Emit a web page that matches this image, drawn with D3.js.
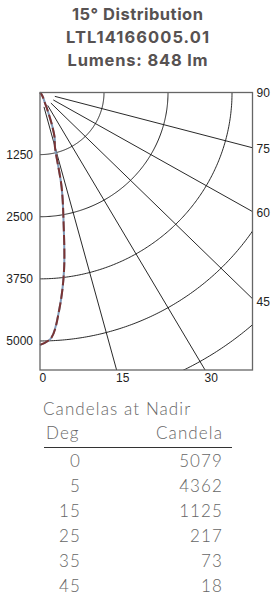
<!DOCTYPE html>
<html><head><meta charset="utf-8">
<script src="https://cdn.jsdelivr.net/npm/d3@7"></script>
<style>body{margin:0;background:#fff}svg{display:block}</style>
</head><body><svg id="c" width="273" height="600"></svg>
<script>
// ---- data ----
const titleLines = ["15° Distribution", "LTL14166005.01", "Lumens: 848 lm"];
const radialTicks = [1250, 2500, 3750, 5000];
const arcRadii = [1250, 2500, 3750, 5000, 6250];
const bottomAngleLabels = [0, 15, 30];
const rightAngleLabels = [90, 75, 60, 45];
const spokeAngles = [15, 30, 45, 60, 75];
// plotted candela curve
const curveAngles = [0, 2.5, 5, 7.5, 10, 12.5, 15, 17.5, 20, 22.5, 25, 30, 35, 45, 90];
const curveCandela = [5079, 4950, 4362, 3600, 2650, 1950, 1125, 950, 650, 380, 217, 130, 73, 18, 0];
// table
const tableDeg = [0, 5, 15, 25, 35, 45];
const tableCandela = [5079, 4362, 1125, 217, 73, 18];

const svg = d3.select("#c");
const rad = d => d * Math.PI / 180;

// title
const titleWidths = [131, 143, 140];
svg.append("g").selectAll("text").data(titleLines).join("text")
  .attr("x", 137.5).attr("y", (d, i) => 20 + i * 23)
  .attr("text-anchor", "middle")
  .attr("font-family", "Inter, Lato, sans-serif").attr("font-weight", 700)
  .attr("font-size", 16.5).attr("fill", "#575252")
  .attr("textLength", (d, i) => titleWidths[i]).attr("lengthAdjust", "spacing")
  .text(d => d);

// scales
const x = d3.scaleLinear().domain([0, 4150]).range([40, 252.5]);
const y = d3.scaleLinear().domain([0, 5584]).range([92.5, 370]);
const [x0, x1] = x.range(), [y0, y1] = y.range();
const maxX = x.domain()[1], maxY = y.domain()[1];

svg.append("clipPath").attr("id", "box").append("rect")
  .attr("x", x0).attr("y", y0).attr("width", x1 - x0).attr("height", y1 - y0);

const grid = svg.append("g").attr("clip-path", "url(#box)");
const arcPts = r => d3.range(0, 90.01, 0.5).map(a => [x(r * Math.sin(rad(a))), y(r * Math.cos(rad(a)))]);
grid.selectAll("path.arc").data(arcRadii).join("path").attr("class", "arc")
  .attr("d", r => d3.line()(arcPts(r)))
  .attr("fill", "none").attr("stroke", "#111").attr("stroke-width", 0.9);
const spokeStart = 300, spokeEnd = 9000;
grid.selectAll("line.spoke").data(spokeAngles).join("line").attr("class", "spoke")
  .attr("x1", a => x(spokeStart * Math.sin(rad(a)))).attr("y1", a => y(spokeStart * Math.cos(rad(a))))
  .attr("x2", a => x(spokeEnd * Math.sin(rad(a)))).attr("y2", a => y(spokeEnd * Math.cos(rad(a))))
  .attr("stroke", "#111").attr("stroke-width", 0.9);

// curve
const pts = curveAngles.map((a, i) => [x(curveCandela[i] * Math.sin(rad(a))), y(curveCandela[i] * Math.cos(rad(a)))]);
const line = d3.line().curve(d3.curveCatmullRom.alpha(0.5));
svg.append("path").attr("d", line(pts)).attr("fill", "none")
  .attr("stroke", "#7f9ab8").attr("stroke-width", 2);
svg.append("path").attr("d", line(pts)).attr("fill", "none")
  .attr("stroke", "#7a3434").attr("stroke-width", 2).attr("stroke-dasharray", "10,3.5");

// frame
svg.append("rect").attr("x", x0).attr("y", y0).attr("width", x1 - x0).attr("height", y1 - y0)
  .attr("fill", "none").attr("stroke", "#666").attr("stroke-width", 1.3);

const lab = svg.append("g").attr("font-family", "'Liberation Sans', Arial, sans-serif")
  .attr("font-size", 12).attr("fill", "#222");
lab.selectAll("text.l").data(radialTicks).join("text").attr("class", "l")
  .attr("x", 33).attr("y", d => y(d)).attr("dy", "0.35em").attr("text-anchor", "end").text(d => d);
lab.selectAll("text.b").data(bottomAngleLabels).join("text").attr("class", "b")
  .attr("x", a => x(maxY * Math.tan(rad(a))) - 0.5).attr("y", y1 + 12).text(d => d);
lab.selectAll("text.r").data(rightAngleLabels).join("text").attr("class", "r")
  .attr("x", x1 + 4).attr("y", a => a === 90 ? y0 : y(maxX / Math.tan(rad(a))) + (a === 45 ? 3 : 1))
  .attr("dy", "0.35em").text(d => d);

// table
const tf = "Lato, Inter, sans-serif";
const tg = svg.append("g").attr("font-family", tf).attr("font-weight", 300).attr("font-size", 17)
  .attr("letter-spacing", "1.1px").attr("fill", "#666");
tg.append("text").attr("x", 43).attr("y", 415).text("Candelas at Nadir");
tg.append("text").attr("x", 46).attr("y", 439).text("Deg");
tg.append("text").attr("x", 223).attr("y", 439).attr("text-anchor", "end").text("Candela");
svg.append("line").attr("x1", 44).attr("x2", 232).attr("y1", 447.5).attr("y2", 447.5)
  .attr("stroke", "#333").attr("stroke-width", 1.2);
const rowY = d3.scaleLinear().domain([0, 1]).range([467, 492]);
tg.selectAll("text.d").data(tableDeg).join("text").attr("class", "d")
  .attr("x", 81).attr("y", (d, i) => rowY(i)).attr("text-anchor", "end").text(d => d);
tg.selectAll("text.v").data(tableCandela).join("text").attr("class", "v")
  .attr("x", 223).attr("y", (d, i) => rowY(i)).attr("text-anchor", "end").text(d => d);
</script></body></html>
